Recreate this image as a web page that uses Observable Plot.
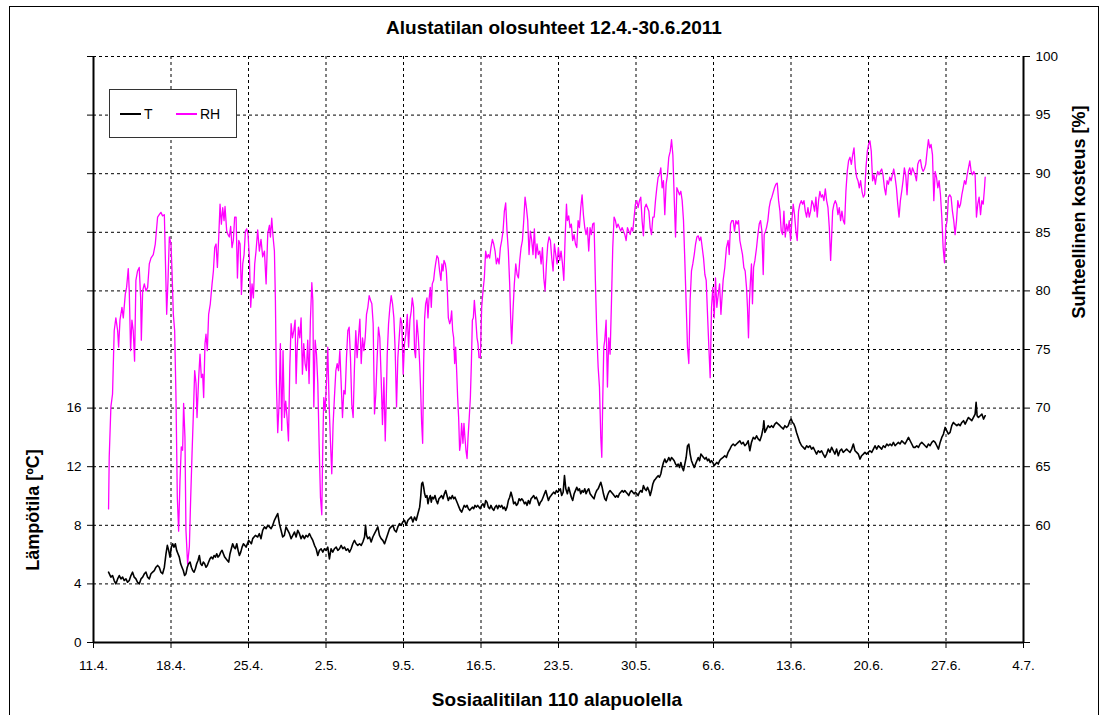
<!DOCTYPE html>
<html>
<head>
<meta charset="utf-8">
<script src="https://cdn.jsdelivr.net/npm/d3@7"></script>
<script src="https://cdn.jsdelivr.net/npm/@observablehq/plot@0.6"></script>
<style>
  html, body { margin: 0; padding: 0; background: #fff; overflow: hidden; }
  #wrap { position: relative; width: 1106px; height: 715px; font-family: "Liberation Sans", Arial, sans-serif; color: #000; }
  #frame { position: absolute; left: 9px; top: 6px; width: 1090px; height: 730px; border: 1px solid #000; box-sizing: border-box; }
  #chart { position: absolute; left: 0; top: 0; }
  .lbl { position: absolute; font-weight: bold; white-space: nowrap; transform: translate(-50%, -50%); }
  .rot { transform: translate(-50%, -50%) rotate(-90deg); }
  #legend { position: absolute; left: 109px; top: 89px; width: 128px; height: 49px; box-sizing: border-box; border: 1px solid #333; background: #fff; font-size: 14px; }
  .lg { position: absolute; top: 16px; display: flex; align-items: center; }
  .lg i { display: inline-block; width: 21px; height: 0; margin-right: 3px; }
</style>
</head>
<body>
<div id="wrap">
  <div id="frame"></div>
  <div id="chart"></div>
  <div class="lbl" id="title" style="left:554px; top:28px; font-size:19px;">Alustatilan olosuhteet 12.4.-30.6.2011</div>
  <div class="lbl rot" style="left:33px; top:510px; font-size:18px;">Lämpötila [ºC]</div>
  <div class="lbl rot" style="left:1079px; top:212px; font-size:18px;">Suhteellinen kosteus [%]</div>
  <div class="lbl" style="left:557px; top:700px; font-size:19px;">Sosiaalitilan 110 alapuolella</div>
  <div id="legend">
    <div class="lg" style="left:10px;"><i style="border-top:2px solid #000;"></i>T</div>
    <div class="lg" style="left:66px;"><i style="border-top:2px solid #ff00ff;"></i>RH</div>
  </div>
</div>
<script>
// day offsets are days after 11.4.2011
const weekTickLabels = ["11.4.","18.4.","25.4.","2.5.","9.5.","16.5.","23.5.","30.5.","6.6.","13.6.","20.6.","27.6.","4.7."];
const leftTicks = [0,4,8,12,16,20,24,28,32,36,40];
const leftTickLabels = ["0","4","8","12","16","","","","","",""];
const rightTickLabels = ["","","60","65","70","75","80","85","90","95","100"];

const tempSeries = [
[1.36,4.80],[1.57,4.46],[1.72,4.57],[1.87,4.23],[2.02,4.00],[2.18,4.34],[2.33,4.57],[2.48,4.34],[2.63,4.46],[2.78,4.23],[2.93,4.34],[3.08,4.11],[3.23,4.23],[3.38,4.57],[3.53,4.80],[3.68,4.46],[3.83,4.34],[3.98,4.11],[4.13,4.00],[4.29,4.34],[4.44,4.46],[4.59,4.69],[4.74,4.80],[4.89,4.46],[5.04,4.34],[5.19,4.69],[5.34,4.80],[5.49,4.91],[5.64,5.14],[5.79,5.26],[5.94,5.14],[6.09,4.80],[6.24,4.69],[6.40,5.14],[6.55,6.06],[6.67,6.63],[6.79,6.29],[6.91,5.83],[7.03,6.51],[7.15,6.74],[7.27,6.51],[7.39,6.74],[7.51,6.29],[7.63,6.06],[7.75,5.83],[7.87,5.37],[7.99,5.14],[8.11,4.91],[8.23,4.57],[8.35,4.69],[8.47,5.14],[8.59,5.37],[8.72,5.49],[8.84,5.14],[8.96,4.91],[9.08,4.80],[9.20,5.03],[9.32,5.37],[9.44,5.60],[9.56,5.94],[9.68,5.37],[9.80,5.26],[9.92,5.49],[10.04,5.37],[10.16,5.14],[10.28,5.26],[10.40,5.49],[10.52,5.71],[10.64,5.83],[10.77,5.71],[10.89,5.94],[11.01,5.83],[11.13,6.06],[11.25,5.83],[11.37,5.94],[11.49,6.17],[11.61,6.29],[11.73,6.06],[11.85,5.83],[11.97,5.71],[12.09,5.60],[12.21,5.49],[12.33,6.06],[12.45,6.40],[12.57,6.74],[12.69,6.51],[12.81,6.40],[12.94,6.74],[13.06,6.29],[13.18,5.94],[13.30,6.17],[13.42,6.51],[13.54,6.74],[13.66,6.63],[13.78,6.51],[13.90,6.74],[14.02,6.97],[14.14,6.86],[14.26,6.74],[14.38,7.09],[14.50,7.20],[14.62,7.31],
[14.83,7.20],[14.98,7.43],[15.13,7.09],[15.28,7.66],[15.44,7.89],[15.59,7.77],[15.74,8.00],[15.89,7.89],[16.04,7.77],[16.19,8.00],[16.34,8.34],[16.49,8.57],[16.64,8.80],[16.79,8.11],[16.94,7.66],[17.09,7.20],[17.24,7.31],[17.39,7.89],[17.55,7.66],[17.70,7.43],[17.85,7.09],[18.00,7.31],[18.15,7.54],[18.30,7.20],[18.45,7.66],[18.60,7.43],[18.75,7.09],[18.90,7.31],[19.05,7.09],[19.20,7.31],[19.35,7.20],[19.50,7.43],[19.65,7.20],[19.81,6.97],[19.96,6.63],[20.11,6.40],[20.26,5.94],[20.41,6.29],[20.56,6.40],[20.71,6.17],[20.86,6.40],[21.01,6.29],[21.16,6.51],[21.31,5.71],[21.46,6.40],[21.61,6.17],[21.76,6.40],[21.92,6.51],[22.07,6.29],[22.22,6.40],[22.37,6.63],[22.52,6.40],[22.67,6.51],[22.82,6.29],[22.97,6.40],[23.12,6.17],[23.27,6.40],[23.42,6.74],[23.57,6.97],[23.72,6.74],[23.87,6.63],[24.03,6.74],[24.18,6.63],[24.33,6.86],[24.48,7.20],[24.57,8.00],[24.66,7.31],[24.78,7.09],[24.93,7.20],[25.08,6.86],[25.23,7.20],[25.38,7.43],[25.53,7.66],[25.68,7.89],[25.83,7.31],[25.98,7.09],[26.13,6.97],[26.29,6.74],[26.44,7.09],[26.59,7.43],[26.74,7.77],[26.89,7.89],[27.04,8.00],[27.19,7.66],[27.34,7.54],[27.49,7.89],[27.64,8.11],[27.79,8.00],[27.94,8.23],[28.09,8.34],[28.24,8.00],[28.40,8.34],[28.55,8.46],[28.70,8.57],
[28.85,8.23],[29.00,8.56],[29.15,8.34],[29.30,8.79],[29.46,9.24],[29.55,9.92],[29.64,10.82],[29.73,10.94],[29.82,10.60],[29.91,10.15],[30.00,9.92],[30.12,10.03],[30.21,9.47],[30.30,9.81],[30.42,10.03],[30.51,9.58],[30.60,9.92],[30.72,9.81],[30.84,10.03],[30.96,9.69],[31.08,9.47],[31.20,9.81],[31.32,9.92],[31.44,10.03],[31.57,9.81],[31.69,10.15],[31.81,10.37],[31.93,10.03],[32.05,9.69],[32.17,9.92],[32.29,9.81],[32.41,10.03],[32.53,9.81],[32.65,9.92],[32.77,9.69],[32.89,9.47],[33.01,9.24],[33.13,9.02],[33.25,8.90],[33.37,9.13],[33.49,9.36],[33.61,9.24],[33.74,9.36],[33.86,9.13],[33.98,9.02],[34.10,9.13],[34.22,9.24],[34.34,9.13],[34.46,9.36],[34.58,9.24],[34.70,9.36],[34.82,9.24],[34.94,9.13],[35.06,9.36],[35.18,9.47],[35.30,9.24],[35.42,9.69],[35.54,9.58],[35.66,9.24],[35.78,9.13],[35.90,9.36],[36.03,9.13],[36.15,9.02],[36.27,9.24],[36.39,9.36],[36.51,9.13],[36.63,9.36],[36.75,9.24],[36.87,9.36],[36.99,9.13],[37.11,9.24],[37.23,9.02],[37.35,9.24],[37.47,9.69],[37.59,9.92],[37.71,10.26],[37.83,9.92],[37.95,9.47],[38.08,9.58],[38.20,9.36],[38.32,9.47],[38.44,9.81],[38.56,9.69],[38.68,9.81],[38.80,9.69],[38.92,9.47],[39.04,9.58],[39.16,9.36],[39.28,9.69],[39.40,9.47],[39.52,9.81],[39.64,9.92],[39.76,10.03],[39.88,9.81],[40.00,9.92],[40.12,9.69],[40.25,9.36],[40.37,9.58],[40.49,9.69],[40.61,9.92],[40.73,10.15],[40.85,10.37],[40.97,10.03],[41.09,9.69],[41.21,9.92],[41.33,10.03],[41.45,10.15],[41.57,10.26],[41.69,10.15],[41.81,10.37],[41.93,10.26],[42.05,10.37],[42.17,10.49],[42.29,10.03],[42.42,10.26],[42.54,11.39],[42.66,10.49],
[42.80,10.15],[42.92,10.60],[43.04,10.26],[43.16,9.92],[43.28,9.69],[43.41,10.15],[43.53,10.37],[43.65,10.60],[43.77,10.37],[43.89,10.49],[44.01,10.15],[44.13,10.37],[44.25,10.26],[44.37,10.49],[44.49,10.15],[44.61,10.37],[44.73,10.49],[44.85,10.15],[44.97,10.03],[45.09,9.92],[45.21,9.81],[45.33,10.15],[45.45,10.37],[45.58,10.49],[45.70,10.71],[45.82,10.94],[45.94,10.60],[46.06,10.15],[46.18,9.81],[46.30,9.69],[46.42,10.03],[46.54,10.26],[46.66,10.37],[46.78,10.26],[46.90,10.15],[47.02,10.03],[47.14,9.92],[47.26,10.03],[47.38,9.92],[47.50,10.15],[47.62,10.26],[47.75,10.37],[47.87,10.26],[47.99,10.37],[48.11,10.26],[48.23,10.15],[48.35,10.03],[48.47,10.26],[48.59,10.37],[48.71,10.26],[48.83,10.15],[48.95,10.26],[49.07,10.15],[49.19,10.03],[49.31,10.26],[49.43,10.37],[49.55,10.26],[49.67,10.71],[49.79,10.49],[49.92,10.37],[50.04,10.60],[50.16,10.37],[50.28,10.03],[50.40,10.37],[50.52,10.82],[50.64,11.05],[50.76,11.16],[50.88,11.28],[51.00,11.39],[51.12,11.28],[51.24,11.50],[51.36,11.95],[51.48,12.29],[51.60,12.52],[51.72,12.29],[51.84,12.41],[51.96,12.63],[52.09,12.41],[52.21,12.63],[52.33,12.52],[52.45,12.41],[52.57,12.18],[52.69,12.07],[52.81,12.18],[52.93,11.95],[53.05,12.29],[53.17,11.95],[53.29,11.73],[53.41,12.18],[53.53,12.63],[53.65,13.42],[53.77,13.54],[53.89,12.86],[54.01,12.41],[54.13,12.18],[54.26,11.95],[54.38,12.18],[54.50,12.41],[54.62,12.63],[54.74,12.41],[54.86,12.86],[54.98,12.75],[55.10,12.63],[55.22,12.52],[55.34,12.63],[55.46,12.41],[55.58,12.52],[55.70,12.29],[55.82,12.41],[55.94,12.29],[56.06,12.07],[56.18,12.18],[56.30,12.29],[56.43,12.18],[56.55,12.41],[56.67,12.52],
[56.87,12.64],[57.02,12.75],[57.17,12.64],[57.32,12.98],[57.48,13.20],[57.63,13.43],[57.78,13.55],[57.93,13.43],[58.08,13.55],[58.23,13.66],[58.38,13.77],[58.53,13.55],[58.68,13.66],[58.83,13.43],[58.98,13.55],[59.13,13.77],[59.28,13.09],[59.43,13.66],[59.59,14.00],[59.74,13.89],[59.89,14.11],[60.04,13.89],[60.19,13.77],[60.34,14.11],[60.49,14.68],[60.55,15.14],[60.64,14.34],[60.79,14.57],[60.94,14.80],[61.09,14.68],[61.24,14.80],[61.39,14.68],[61.54,14.91],[61.70,15.02],[61.85,14.91],[62.00,14.80],[62.15,14.68],[62.30,14.57],[62.45,14.80],[62.60,14.68],[62.75,14.80],[62.90,15.14],[63.02,15.25],[63.14,15.02],[63.26,14.91],[63.38,14.68],[63.50,14.34],[63.65,14.00],[63.80,13.66],[63.96,13.43],[64.11,13.32],[64.26,13.20],[64.41,13.43],[64.56,13.32],[64.71,13.43],[64.86,13.20],[65.01,13.32],[65.16,13.09],[65.31,12.86],[65.46,13.09],[65.61,12.98],[65.76,13.09],[65.91,12.86],[66.07,12.64],[66.22,12.86],[66.37,13.20],[66.52,12.98],[66.67,13.32],[66.82,13.09],[66.97,12.86],[67.12,13.20],[67.27,12.75],[67.42,13.09],[67.57,13.20],[67.72,12.98],[67.87,13.09],[68.02,13.20],[68.17,13.09],[68.33,12.98],[68.48,13.20],[68.63,13.55],[68.78,13.09],[68.93,12.98],[69.08,12.86],[69.23,12.52],[69.38,12.75],[69.53,12.86],[69.68,12.98],[69.83,12.86],[69.98,12.98],[70.13,13.09],[70.29,12.98],[70.44,13.20],[70.59,13.43],
[70.74,13.20],[70.89,13.43],[71.04,13.32],[71.19,13.20],[71.34,13.43],[71.50,13.32],[71.65,13.55],[71.80,13.43],[71.95,13.55],[72.10,13.43],[72.25,13.66],[72.40,13.43],[72.55,13.55],[72.70,13.66],[72.85,13.55],[73.00,13.77],[73.15,13.66],[73.30,13.55],[73.45,13.77],[73.61,14.00],[73.76,13.77],[73.91,13.55],[74.06,13.32],[74.21,13.32],[74.36,13.43],[74.51,13.32],[74.66,13.55],[74.81,13.66],[74.96,13.55],[75.11,13.43],[75.26,13.32],[75.41,13.55],[75.56,13.43],[75.72,13.66],[75.87,13.77],[76.02,13.66],[76.17,13.43],[76.32,13.20],[76.47,13.66],[76.62,14.00],[76.77,14.23],[76.92,14.68],[77.07,14.45],[77.22,14.23],[77.37,14.34],[77.52,14.80],[77.67,15.02],[77.82,14.91],[77.98,14.80],[78.13,14.91],[78.28,14.80],[78.43,15.02],[78.58,15.14],[78.73,14.91],[78.88,15.14],[79.03,15.36],[79.18,15.25],[79.33,15.14],[79.48,15.36],[79.63,15.59],[79.72,16.39],[79.81,15.48],[79.93,15.36],[80.09,15.48],[80.24,15.59],[80.39,15.25],[80.54,15.48]
];

const rhSeries = [
[1.36,61.4],[1.42,65.8],[1.57,70.1],[1.72,71.2],[1.87,76.6],[2.02,77.7],[2.18,76.6],[2.27,75.2],[2.39,77.5],[2.57,78.6],[2.69,77.7],[2.87,79.7],[2.99,80.3],[3.14,81.9],[3.23,80.0],[3.35,74.9],[3.47,77.5],[3.59,76.6],[3.71,74.0],[3.83,80.9],[3.98,81.7],[4.13,82.0],[4.26,79.4],[4.32,75.8],[4.44,80.0],[4.59,80.6],[4.74,80.0],[4.89,80.3],[5.04,82.3],[5.19,82.8],[5.40,83.1],[5.58,84.0],[5.79,86.3],[5.94,86.5],[6.09,86.7],[6.24,86.4],[6.40,86.5],[6.49,82.8],[6.61,78.0],[6.73,80.9],[6.85,84.6],[7.00,84.0],[7.09,81.7],[7.21,78.0],[7.33,76.6],[7.45,70.9],[7.57,62.4],[7.69,59.5],[7.81,63.8],[7.93,66.7],[8.05,66.4],[8.14,70.4],[8.26,67.5],[8.35,59.6],[8.50,56.7],[8.66,58.2],[8.78,62.4],[8.90,66.1],[9.02,69.5],[9.14,73.2],[9.26,72.1],[9.35,69.2],[9.50,72.6],[9.62,74.6],[9.74,72.6],[9.86,72.9],[9.95,70.9],[10.07,75.5],[10.16,76.3],[10.28,74.9],[10.40,78.0],[10.55,78.9],[10.71,80.6],[10.83,81.7],[10.95,83.7],[11.07,84.0],[11.19,82.0],[11.31,84.6],[11.43,87.4],[11.55,85.7],[11.67,87.1],[11.79,86.0],[11.88,87.2],[12.03,85.1],[12.15,84.8],[12.27,84.6],[12.39,85.5],[12.51,83.7],[12.63,84.3],[12.75,86.3],[12.88,86.3],[13.00,81.1],[13.12,84.3],[13.24,84.0],[13.36,79.7],[13.48,82.3],[13.60,83.1],[13.72,85.1],[13.84,85.3],[13.96,84.8],[14.08,82.8],[14.20,78.6],[14.32,80.6],[14.44,79.4],[14.56,82.3],[14.68,83.4],
[14.83,85.2],[14.98,83.4],[15.13,84.4],[15.28,82.9],[15.44,83.4],[15.59,80.6],[15.74,84.9],[15.89,85.6],[15.98,84.6],[16.10,86.2],[16.22,84.6],[16.34,83.4],[16.43,79.2],[16.52,72.1],[16.64,67.9],[16.76,70.3],[16.88,75.5],[17.00,68.1],[17.12,74.9],[17.24,69.2],[17.36,70.6],[17.48,69.2],[17.61,67.2],[17.73,73.5],[17.85,77.2],[17.97,76.0],[18.09,76.6],[18.21,77.5],[18.30,72.1],[18.39,74.9],[18.51,76.9],[18.63,76.0],[18.75,77.7],[18.87,72.9],[18.99,75.5],[19.11,73.8],[19.23,73.2],[19.35,75.8],[19.47,72.1],[19.59,77.5],[19.72,80.7],[19.81,79.2],[19.90,70.1],[20.02,75.8],[20.14,74.6],[20.26,72.1],[20.38,66.9],[20.50,62.4],[20.62,60.9],[20.71,66.9],[20.80,70.9],[20.92,69.8],[21.04,72.1],[21.16,75.2],[21.28,70.3],[21.40,67.2],[21.52,64.4],[21.64,68.6],[21.76,70.9],[21.89,73.2],[22.01,73.8],[22.13,73.2],[22.25,74.9],[22.37,72.1],[22.49,69.2],[22.61,71.5],[22.73,71.2],[22.85,74.3],[22.97,76.6],[23.09,76.9],[23.21,74.3],[23.33,70.3],[23.45,69.2],[23.57,73.5],[23.69,76.6],[23.81,74.3],[23.93,76.0],[24.06,77.6],[24.18,73.8],[24.30,76.0],[24.42,74.9],[24.54,76.0],[24.66,78.0],[24.78,78.6],[24.90,79.6],[25.02,79.2],[25.14,78.9],[25.26,77.2],[25.38,69.5],[25.50,71.2],[25.62,74.3],[25.74,76.9],[25.86,76.0],[25.98,72.6],[26.10,68.6],[26.23,72.6],[26.35,67.2],[26.44,70.6],[26.53,74.6],[26.65,77.2],[26.77,78.6],[26.89,79.6],[27.01,78.9],[27.13,77.7],[27.25,74.9],[27.37,70.1],[27.49,74.3],[27.61,76.0],[27.73,77.7],[27.85,77.2],[27.97,72.9],[28.09,75.5],[28.21,76.3],[28.34,78.0],[28.46,75.2],[28.58,77.5],[28.70,78.3],
[28.79,79.4],[28.91,78.6],[29.00,74.9],[29.09,74.3],[29.21,77.5],[29.34,76.0],[29.46,73.8],[29.55,71.5],[29.64,68.7],[29.73,67.0],[29.82,73.8],[29.91,77.7],[30.00,78.9],[30.12,79.4],[30.21,77.7],[30.30,79.2],[30.42,80.3],[30.51,78.6],[30.60,80.6],[30.72,80.9],[30.81,81.7],[30.90,82.3],[31.02,83.0],[31.14,82.8],[31.26,81.7],[31.38,80.9],[31.47,82.3],[31.57,81.7],[31.66,82.6],[31.78,82.3],[31.87,81.7],[31.96,80.0],[32.05,77.7],[32.17,77.2],[32.26,77.5],[32.35,78.3],[32.44,76.6],[32.53,76.0],[32.62,73.8],[32.71,75.2],[32.80,73.2],[32.89,70.9],[32.98,69.2],[33.07,66.4],[33.16,67.0],[33.25,68.7],[33.37,67.0],[33.46,68.7],[33.55,67.5],[33.64,66.4],[33.74,65.7],[33.83,67.5],[33.92,68.9],[34.04,70.9],[34.13,73.8],[34.22,77.5],[34.31,77.7],[34.40,79.2],[34.52,77.7],[34.64,76.0],[34.73,75.5],[34.82,74.3],[34.94,74.3],[35.06,78.6],[35.18,80.0],[35.30,81.1],[35.42,83.4],[35.54,82.8],[35.66,83.1],[35.78,82.8],[35.90,83.7],[36.03,84.4],[36.15,84.0],[36.27,83.4],[36.39,82.3],[36.51,82.8],[36.63,82.3],[36.75,83.7],[36.87,84.3],[36.99,85.1],[37.11,86.8],[37.23,87.5],[37.35,85.1],[37.47,83.4],[37.59,80.6],[37.68,77.7],[37.77,75.5],[37.89,78.3],[38.01,80.6],[38.14,82.3],[38.26,81.4],[38.38,81.1],[38.50,82.6],[38.62,83.7],[38.74,84.3],[38.86,86.0],[38.98,88.0],[39.10,87.1],[39.22,86.0],[39.34,83.1],[39.46,85.1],[39.58,84.3],[39.70,83.1],[39.82,85.3],[39.94,82.8],[40.06,84.0],[40.18,83.1],[40.31,83.4],[40.43,82.3],[40.55,83.7],[40.67,81.1],[40.79,80.0],[40.91,82.3],[41.03,84.0],[41.15,84.6],[41.27,84.3],[41.39,82.8],[41.51,81.7],[41.63,84.0],[41.75,83.1],[41.87,82.3],[41.99,83.7],[42.11,82.6],[42.23,83.4],[42.36,82.3],[42.48,80.9],[42.60,84.6],[42.72,87.4],
[42.80,86.0],[42.92,86.4],[43.04,85.4],[43.16,85.7],[43.28,84.3],[43.41,84.8],[43.53,84.0],[43.65,83.7],[43.77,86.0],[43.89,85.4],[44.01,87.1],[44.13,88.2],[44.25,86.5],[44.37,85.4],[44.49,84.8],[44.61,85.4],[44.73,83.4],[44.85,85.4],[44.97,84.8],[45.09,85.7],[45.21,85.8],[45.33,80.9],[45.45,76.6],[45.58,73.5],[45.70,71.8],[45.82,67.5],[45.91,65.8],[46.00,70.9],[46.09,75.2],[46.18,75.8],[46.30,77.5],[46.42,71.8],[46.54,76.0],[46.66,74.6],[46.78,78.9],[46.90,83.7],[47.02,86.3],[47.14,86.0],[47.26,85.4],[47.38,85.7],[47.50,85.4],[47.62,85.1],[47.75,85.4],[47.87,85.1],[47.99,84.8],[48.11,84.3],[48.23,85.4],[48.35,85.1],[48.47,84.8],[48.59,85.4],[48.71,85.1],[48.83,86.3],[48.95,87.4],[49.07,87.7],[49.19,87.1],[49.31,87.7],[49.43,88.0],[49.55,86.0],[49.67,84.7],[49.79,87.1],[49.92,87.4],[50.04,87.1],[50.16,86.8],[50.28,85.4],[50.40,84.8],[50.52,86.3],[50.64,86.3],[50.76,87.7],[50.88,88.8],[51.00,89.7],[51.12,89.9],[51.24,90.5],[51.36,88.8],[51.48,89.4],[51.60,86.5],[51.72,89.1],[51.84,89.9],[51.96,91.4],[52.09,91.9],[52.21,92.9],[52.33,91.6],[52.45,88.0],[52.57,84.6],[52.69,88.8],[52.81,88.5],[52.93,88.2],[53.05,88.5],[53.17,87.7],[53.29,86.0],[53.41,82.6],[53.53,78.9],[53.65,75.2],[53.77,73.8],[53.89,79.2],[54.01,81.7],[54.13,82.3],[54.26,83.1],[54.38,84.0],[54.50,84.6],[54.62,84.7],[54.74,84.3],[54.86,84.6],[54.98,83.7],[55.10,82.8],[55.22,81.4],[55.34,80.9],[55.46,78.0],[55.58,75.2],[55.70,72.6],[55.82,78.6],[55.94,80.3],[56.06,77.7],[56.18,81.1],[56.30,78.6],[56.43,79.7],[56.55,80.6],[56.67,78.0],
[56.87,80.9],[57.02,82.0],[57.17,83.7],[57.32,84.3],[57.42,83.1],[57.54,85.7],[57.66,86.0],[57.78,86.0],[57.90,85.1],[58.02,86.0],[58.14,85.7],[58.26,86.0],[58.38,84.3],[58.50,83.7],[58.62,83.1],[58.74,82.0],[58.86,81.7],[58.98,80.3],[59.07,78.6],[59.16,76.0],[59.25,79.2],[59.34,80.9],[59.43,82.3],[59.52,78.9],[59.62,82.0],[59.74,82.6],[59.89,83.7],[60.01,84.8],[60.13,85.7],[60.25,86.0],[60.37,85.1],[60.49,81.4],[60.58,84.8],[60.70,85.1],[60.79,85.4],[60.91,86.0],[61.03,87.1],[61.15,87.7],[61.27,88.0],[61.39,88.4],[61.51,88.8],[61.63,89.1],[61.76,89.2],[61.88,87.7],[62.00,86.8],[62.12,85.1],[62.24,84.8],[62.36,86.8],[62.48,84.6],[62.60,85.7],[62.72,85.1],[62.84,86.0],[62.96,84.3],[63.08,86.0],[63.20,87.4],[63.32,86.5],[63.44,85.1],[63.56,84.3],[63.68,86.8],[63.80,87.4],[63.93,87.7],[64.05,87.4],[64.17,87.7],[64.29,86.8],[64.41,86.3],[64.53,87.1],[64.65,86.3],[64.77,86.8],[64.89,87.7],[65.01,87.4],[65.13,86.8],[65.25,88.0],[65.37,86.3],[65.49,87.7],[65.61,88.5],[65.73,88.0],[65.85,88.2],[65.97,87.7],[66.10,88.7],[66.22,87.7],[66.34,87.1],[66.46,85.4],[66.58,82.6],[66.67,84.6],[66.76,86.8],[66.88,87.4],[67.00,87.7],[67.12,87.4],[67.24,86.5],[67.36,87.1],[67.48,86.0],[67.60,86.8],[67.72,86.0],[67.84,85.7],[67.96,88.5],[68.08,90.2],[68.20,91.1],[68.33,91.4],[68.45,90.8],[68.57,91.6],[68.69,92.2],[68.81,90.5],[68.93,89.7],[69.05,89.4],[69.17,88.8],[69.29,89.4],[69.41,88.5],[69.53,88.0],[69.65,88.2],[69.77,90.5],[69.89,91.9],[70.01,92.5],[70.13,92.8],[70.25,91.9],[70.37,89.4],[70.49,89.9],[70.62,89.1],
[70.71,89.7],[70.83,90.2],[70.95,89.9],[71.07,90.2],[71.19,90.4],[71.31,89.9],[71.44,88.8],[71.56,88.2],[71.68,89.4],[71.80,89.1],[71.92,89.7],[72.04,89.4],[72.16,89.9],[72.28,90.4],[72.40,89.7],[72.52,88.8],[72.64,87.4],[72.76,86.3],[72.88,87.7],[73.00,88.5],[73.12,89.4],[73.24,90.5],[73.36,89.9],[73.48,88.2],[73.61,90.2],[73.73,90.5],[73.85,89.9],[73.97,90.5],[74.09,90.2],[74.21,89.9],[74.33,89.4],[74.45,90.8],[74.57,91.1],[74.69,91.2],[74.81,90.5],[74.93,90.2],[75.05,90.4],[75.17,90.8],[75.29,91.9],[75.41,92.9],[75.53,92.2],[75.65,92.5],[75.78,91.6],[75.90,87.7],[76.02,90.2],[76.14,89.7],[76.26,88.8],[76.38,89.4],[76.50,88.2],[76.62,86.3],[76.74,83.7],[76.86,82.4],[76.98,85.4],[77.10,86.0],[77.22,88.0],[77.34,88.2],[77.46,88.0],[77.58,86.8],[77.70,86.0],[77.82,84.8],[77.95,86.0],[78.07,87.7],[78.19,87.1],[78.31,87.4],[78.43,88.2],[78.55,88.8],[78.67,89.4],[78.79,89.1],[78.91,89.9],[79.03,90.5],[79.15,91.1],[79.27,90.2],[79.39,89.9],[79.51,90.2],[79.63,89.9],[79.75,86.3],[79.87,87.4],[79.99,88.0],[80.12,86.5],[80.24,87.7],[80.36,87.4],[80.48,88.8],[80.54,89.7]
];

const DAY = 864e5;
const start = Date.UTC(2011, 3, 11);
const toDate = d => new Date(start + d * DAY);
const weekTicks = weekTickLabels.map((_, i) => toDate(i * 7));
const tData = tempSeries.map(([d, v]) => ({date: toDate(d), value: v}));
const rhData = rhSeries.map(([d, v]) => ({date: toDate(d), value: v}));
// right axis: RH 50..100 shares the frame with T 0..40
const rhToY = v => (v - 50) * 0.8;
const weekLabel = d => weekTickLabels[Math.round((d - start) / (7 * DAY))];

const chart = Plot.plot({
  width: 1106,
  height: 715,
  marginLeft: 93,
  marginRight: 83,
  marginTop: 56,
  marginBottom: 73,
  x: {type: "utc", domain: [toDate(0), toDate(84)]},
  y: {domain: [0, 40]},
  style: {fontFamily: "'Liberation Sans', Arial, sans-serif", fontSize: "13px", color: "#000", background: "transparent", overflow: "visible"},
  marks: [
    Plot.gridY(leftTicks.slice(1), {stroke: "#000", strokeOpacity: 1, strokeWidth: 1, strokeDasharray: "3,3"}),
    Plot.gridX(weekTicks.slice(1, -1), {stroke: "#000", strokeOpacity: 1, strokeWidth: 1, strokeDasharray: "3,3"}),
    Plot.axisY(leftTicks, {anchor: "left", tickSize: 6, tickPadding: 6, tickFormat: t => leftTickLabels[leftTicks.indexOf(t)], label: null, fontSize: 13.5}),
    Plot.axisY(leftTicks, {anchor: "right", tickSize: 6, tickPadding: 6, tickFormat: t => rightTickLabels[leftTicks.indexOf(t)], label: null, fontSize: 13.5}),
    Plot.axisX(weekTicks, {anchor: "bottom", tickSize: 6, tickPadding: 12, tickFormat: weekLabel, label: null, fontSize: 13.5}),
    Plot.ruleX([toDate(0), toDate(84)], {stroke: "#000", strokeWidth: 2}),
    Plot.ruleY([0], {stroke: "#000", strokeWidth: 2}),
    Plot.lineY(rhData, {x: "date", y: d => rhToY(d.value), stroke: "#ff00ff", strokeWidth: 1.3}),
    Plot.lineY(tData, {x: "date", y: "value", stroke: "#000", strokeWidth: 1.6})
  ]
});
document.getElementById("chart").appendChild(chart);
</script>
</body>
</html>
